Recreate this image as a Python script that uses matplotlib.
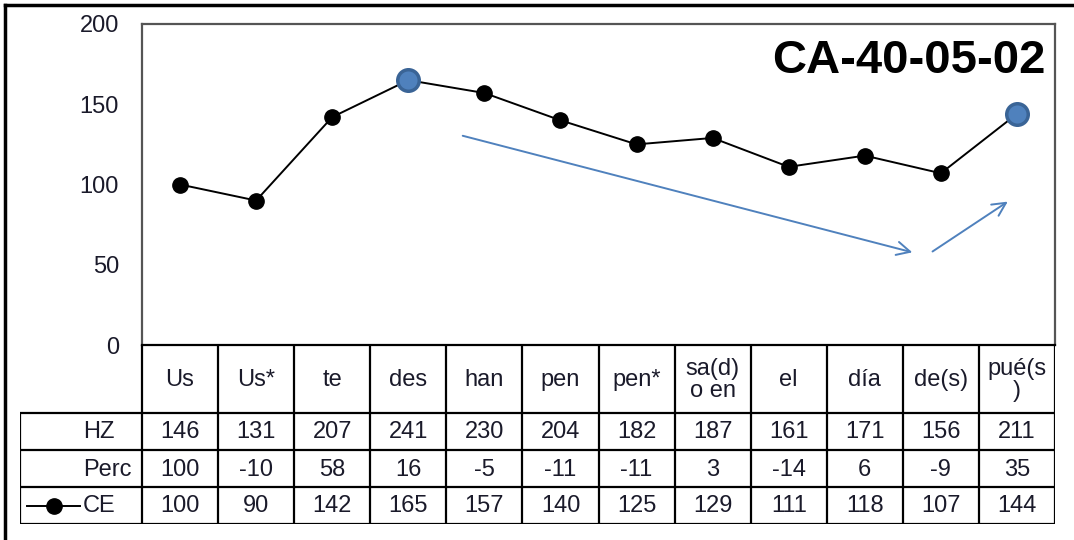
import matplotlib
matplotlib.use("Agg")
import matplotlib.pyplot as plt
from matplotlib.lines import Line2D

plt.rcParams['font.family'] = ['Liberation Sans', 'DejaVu Sans']

categories = ["Us", "Us*", "te", "des", "han", "pen", "pen*", "sa(d)\no en", "el", "día", "de(s)", "pué(s\n)"]
hz = [146, 131, 207, 241, 230, 204, 182, 187, 161, 171, 156, 211]
perc = [100, -10, 58, 16, -5, -11, -11, 3, -14, 6, -9, 35]
ce = [100, 90, 142, 165, 157, 140, 125, 129, 111, 118, 107, 144]
highlight = [3, 11]
row_labels = ["HZ", "Perc", "CE"]
title = "CA-40-05-02"

W, H = 1074, 540
fig = plt.figure(figsize=(W / 100, H / 100), dpi=100)

# pixel geometry
pl, pr, pt, pb = 142, 1055, 24, 345
tl, tb = 20, 524
cat_h, row_h = 68, 37
n = len(categories)

def fx(px):
    return px / W

def fy(py):
    return 1 - py / H

fs = 17
txt_c = '#1a1a2a'

ax = fig.add_axes([fx(pl), fy(pb), fx(pr - pl), (pb - pt) / H])
ax.set_xlim(-0.5, n - 0.5)
ax.set_ylim(0, 200)
ax.set_yticks([0, 50, 100, 150, 200])
ax.set_xticks([])
ax.tick_params(axis='y', length=0, pad=16.5, labelsize=fs, labelcolor=txt_c)
for s in ax.spines.values():
    s.set_color('#555555')
    s.set_linewidth(1.6)
ax.spines['bottom'].set_color('black')

x = list(range(n))
ax.plot(x, ce, color='black', lw=1.4, marker='o', ms=11, mfc='black', mec='black', zorder=3)
ax.plot([x[i] for i in highlight], [ce[i] for i in highlight], ls='none', marker='o',
        ms=15.5, mfc='#4F81BD', mec='#3A6496', mew=2.5, zorder=4)

ax.text(0.99, 0.885, title, transform=ax.transAxes, ha='right', va='center',
        fontsize=34, fontweight='bold', color='black')

arrow_kw = dict(arrowstyle='->', color='#4F81BD', lw=1.4, mutation_scale=24)
ax.annotate('', xy=(9.66, 57.3), xytext=(3.68, 130.8), arrowprops=arrow_kw)
ax.annotate('', xy=(10.91, 90.3), xytext=(9.86, 57.3), arrowprops=arrow_kw)

# table axes
unit = (pr - pl) / n
left_data = -0.5 - (pl - tl) / unit
tax = fig.add_axes([fx(tl), fy(tb), fx(pr - tl), (tb - pb) / H])
tax.set_xlim(left_data, n - 0.5)
total_h = cat_h + 3 * row_h
tax.set_ylim(total_h, 0)
tax.axis('off')

lc = 'black'
lw = 1.6
for i in range(n + 1):
    tax.plot([i - 0.5, i - 0.5], [0, total_h], color=lc, lw=lw, solid_capstyle='butt')
tax.plot([left_data, left_data], [cat_h, total_h], color=lc, lw=lw, solid_capstyle='butt')
for k in range(4):
    yy = cat_h + k * row_h
    tax.plot([left_data, n - 0.5], [yy, yy], color=lc, lw=lw, solid_capstyle='butt')

for i, c in enumerate(categories):
    tax.text(i, cat_h / 2 + 1, c, ha='center', va='center', fontsize=fs, color=txt_c,
             linespacing=1.0)
for r, vals in enumerate([hz, perc, ce]):
    yc = cat_h + r * row_h + row_h / 2 + 1
    for i, v in enumerate(vals):
        tax.text(i, yc, str(v), ha='center', va='center', fontsize=fs, color=txt_c)

label_x = left_data + (83 - tl) / unit
for r, lab in enumerate(row_labels):
    yc = cat_h + r * row_h + row_h / 2 + 1
    tax.text(label_x, yc, lab, ha='left', va='center', fontsize=fs, color=txt_c)

# legend key in CE row
yc = cat_h + 2 * row_h + row_h / 2
k0 = left_data + (27 - tl) / unit
k1 = left_data + (80 - tl) / unit
tax.plot([k0, k1], [yc, yc], color='black', lw=1.4)
tax.plot([(k0 + k1) / 2], [yc], marker='o', ms=11, color='black')

# outer frame (left and top)
fig.add_artist(Line2D([fx(5), fx(5)], [0, fy(5)], color='black', lw=2.5))
fig.add_artist(Line2D([fx(5), 1], [fy(5), fy(5)], color='black', lw=2.5))

fig.savefig('out.png', dpi=100)
